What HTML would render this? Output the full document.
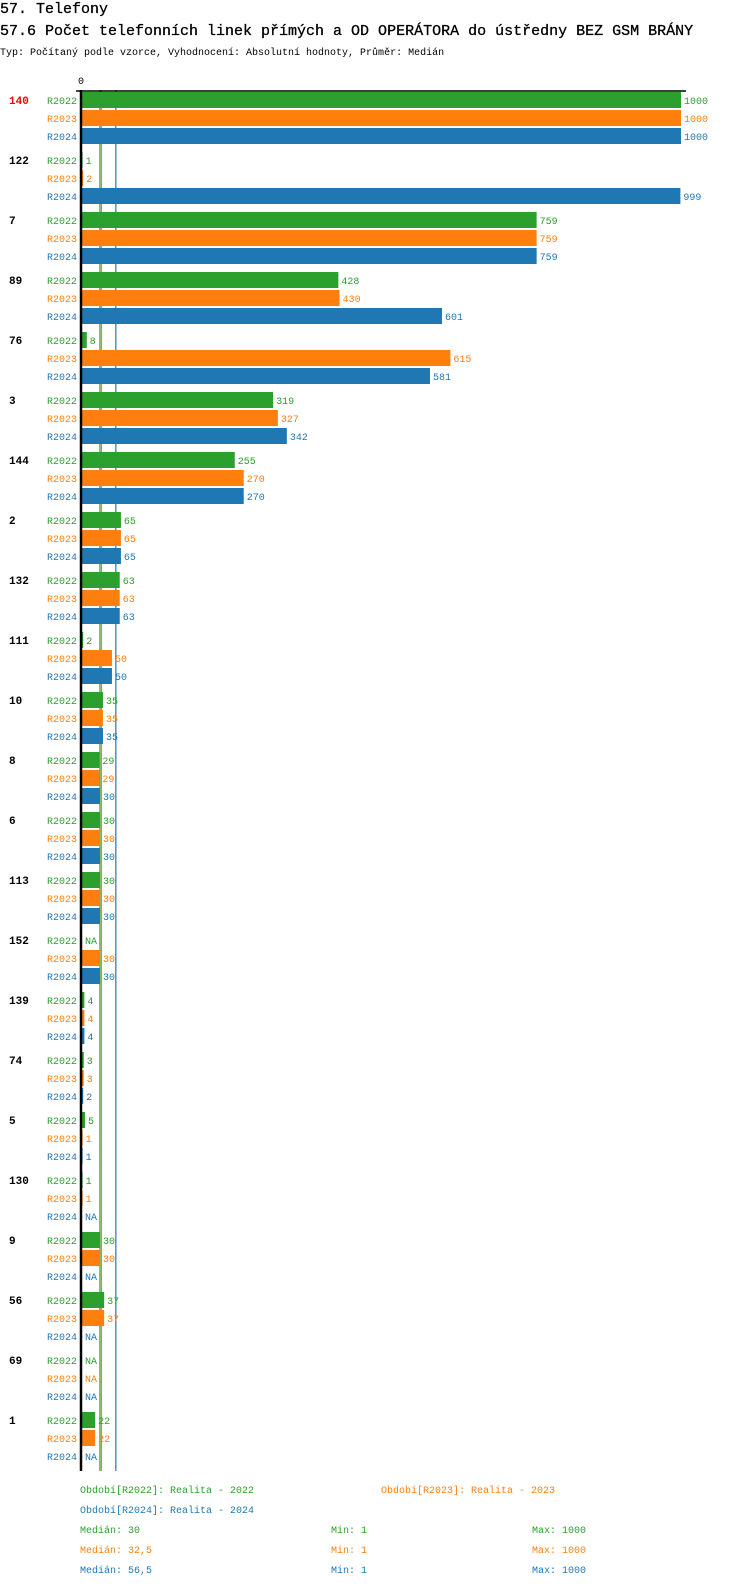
<!DOCTYPE html>
<html><head><meta charset="utf-8">
<style>
html,body{margin:0;padding:0;background:#fff;width:750px;height:1592px;overflow:hidden}
svg{display:block}
text{font-family:"Liberation Mono","DejaVu Sans Mono",monospace}
</style></head>
<body>
<svg id="chart" width="750" height="1592" viewBox="0 0 750 1592" xmlns="http://www.w3.org/2000/svg">
<text x="0" y="13" font-size="15" fill="#000" stroke="#000" stroke-width="0.3">57. Telefony</text>
<text x="0" y="35" font-size="15" fill="#000" stroke="#000" stroke-width="0.3">57.6 Počet telefonních linek přímých a OD OPERÁTORA do ústředny BEZ GSM BRÁNY</text>
<text x="0" y="55" font-size="10" fill="#000">Typ: Počítaný podle vzorce, Vyhodnocení: Absolutní hodnoty, Průměr: Medián</text>
<g id="plot"></g>
</svg>
<script>
const categories = ["140","122","7","89","76","3","144","2","132","111","10","8","6","113","152","139","74","5","130","9","56","69","1"];
const seriesNames = ["R2022","R2023","R2024"];
const r2022 = [1000,1,759,428,8,319,255,65,63,2,35,29,30,30,null,4,3,5,1,30,37,null,22];
const r2023 = [1000,2,759,430,615,327,270,65,63,50,35,29,30,30,30,4,3,1,1,30,37,null,22];
const r2024 = [1000,999,759,601,581,342,270,65,63,50,35,30,30,30,30,4,2,1,null,null,null,null,null];
const medians = [30,32.5,56.5];
const mins = [1,1,1];
const maxs = [1000,1000,1000];
const medianLabels = ["30","32,5","56,5"];
const periodLabels = ["Realita - 2022","Realita - 2023","Realita - 2024"];
const highlight = "140";

const colors = ["#2ca02c","#ff7f0e","#1f77b4"];
const NS = "http://www.w3.org/2000/svg";
const g = document.getElementById("plot");
const X0 = 82, XS = 0.599;
const x = v => X0 + v * XS;
const Y0 = 100, GS = 60, RS = 18;
const y = (gi, si) => Y0 + gi * GS + si * RS;
const series = [r2022, r2023, r2024];
const yEnd = y(categories.length - 1, 2) + 15;

function el(tag, attrs, txt) {
  const e = document.createElementNS(NS, tag);
  for (const k in attrs) e.setAttribute(k, attrs[k]);
  if (txt !== undefined) e.textContent = txt;
  g.appendChild(e);
  return e;
}

medians.forEach((m, i) => {
  const l = el("line", {x1: x(m), x2: x(m), y1: 90, y2: yEnd, stroke: colors[i], "stroke-width": 1.2});
  
  
});

const z = el("text", {x: 78, y: 84, "font-size": 10, fill: "#000"}, "0");


const tl = el("line", {x1: 76, x2: 686, y1: 91, y2: 91, stroke: "#000", "stroke-width": 1.5});



categories.forEach((c, gi) => {
  const gl = el("text", {x: 9, y: y(gi, 0) + 4, "font-size": 11, "font-weight": "bold", fill: c === highlight ? "#ff0000" : "#000"}, c);
  
  
  series.forEach((s, si) => {
    const cy = y(gi, si);
    const sl = el("text", {x: 77, y: cy + 4, "font-size": 10, fill: colors[si], "text-anchor": "end"}, seriesNames[si]);
    
    
    const v = s[gi];
    let endX = X0;
    if (v !== null) {
      const b = el("rect", {x: X0, y: cy - 8, width: Math.max(0, x(v) - X0), height: 16, fill: colors[si]});
      
      
      endX = x(v);
    }
    const vl = el("text", {x: endX + 3, y: cy + 4, "font-size": 10, fill: colors[si]}, v === null ? "NA" : String(v));
    
    
  });
});

const ax = el("line", {x1: 81, x2: 81, y1: 90, y2: yEnd, stroke: "#000", "stroke-width": 2.5});



const LY = yEnd + 22;
const legPos = [[80, LY], [381, LY], [80, LY + 20]];
seriesNames.forEach((n, i) => {
  const t = el("text", {x: legPos[i][0], y: legPos[i][1], "font-size": 10, fill: colors[i]}, "Období[" + n + "]: " + periodLabels[i]);
  
  
});
seriesNames.forEach((n, i) => {
  const yy = LY + 40 + i * 20;
  const a = el("text", {x: 80, y: yy, "font-size": 10, fill: colors[i]}, "Medián: " + medianLabels[i]);
  
  
  const b = el("text", {x: 331, y: yy, "font-size": 10, fill: colors[i]}, "Min: " + mins[i]);
  
  
  const c2 = el("text", {x: 532, y: yy, "font-size": 10, fill: colors[i]}, "Max: " + maxs[i]);
  
  
});
</script>
</body></html>
